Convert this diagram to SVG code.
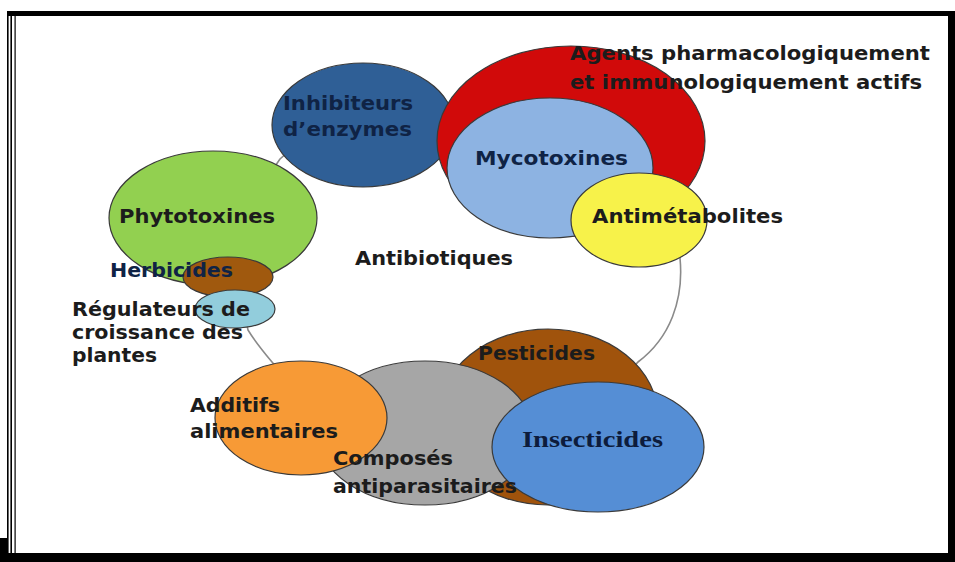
<svg xmlns="http://www.w3.org/2000/svg" width="955" height="562" viewBox="0 0 955 562">
<style>
  .n { stroke: #3a3a3a; stroke-width: 1.2; }
  .t { font-family: "DejaVu Sans", "Liberation Sans", sans-serif; font-weight: bold; font-size: 20px; fill: #1c1c1c; }
  .tb { fill: #0f2345; }
  .ts { font-family: "Liberation Serif", "DejaVu Serif", serif; font-weight: bold; font-size: 23px; fill: #0d1c3c; }
  .ring { fill: none; stroke: #8a8a8a; stroke-width: 1.6; }
</style>
<rect x="0" y="0" width="955" height="562" fill="#ffffff"/>
<!-- frame -->
<g id="frame" fill="#000">
  <rect x="7" y="11" width="942" height="5"/>
  <rect x="7" y="11" width="1.6" height="545"/>
  <rect x="10.4" y="11" width="1.6" height="545"/>
  <rect x="14.5" y="16" width="1.2" height="538"/>
  <rect x="948" y="11" width="7" height="551"/>
  <rect x="0" y="553" width="955" height="9"/>
  <rect x="0" y="538" width="7" height="24"/>
</g>
<g id="connectors">
  <path class="ring" d="M 680,258 C 684,300 670,338 638,362 C 590,420 330,440 272,362 C 262,350 254,340 248,330 C 238,290 250,200 280,159 C 320,120 400,130 446,130 C 520,130 690,150 680,258 Z"/>
</g>
<g id="inhibiteurs">
  <ellipse class="n" cx="363" cy="125" rx="91" ry="62" fill="#2f5f96"/>
  <text class="t tb" x="283" y="110" textLength="130" lengthAdjust="spacingAndGlyphs">Inhibiteurs</text>
  <text class="t tb" x="283" y="136" textLength="129" lengthAdjust="spacingAndGlyphs">d’enzymes</text>
</g>
<g id="agents">
  <ellipse class="n" cx="571" cy="141" rx="134" ry="95" fill="#d10a0a"/>
</g>
<g id="mycotoxines">
  <ellipse class="n" cx="550" cy="168" rx="103" ry="70" fill="#8db3e2"/>
  <text class="t tb" x="475" y="165" textLength="153" lengthAdjust="spacingAndGlyphs">Mycotoxines</text>
</g>
<g id="antimetabolites">
  <ellipse class="n" cx="639" cy="220" rx="68" ry="47" fill="#f7f24a"/>
  <text class="t" x="592" y="223" textLength="191" lengthAdjust="spacingAndGlyphs">Antimétabolites</text>
</g>
<g id="agents-label">
  <text class="t" x="570" y="60" textLength="360" lengthAdjust="spacingAndGlyphs">Agents pharmacologiquement</text>
  <text class="t" x="570" y="89" textLength="352" lengthAdjust="spacingAndGlyphs">et immunologiquement actifs</text>
</g>
<g id="phytotoxines">
  <ellipse class="n" cx="213" cy="218" rx="104" ry="67" fill="#92d050"/>
  <text class="t" x="119" y="223" textLength="156" lengthAdjust="spacingAndGlyphs">Phytotoxines</text>
</g>
<g id="herbicides">
  <ellipse class="n" cx="228" cy="277" rx="45" ry="20" fill="#a0590e"/>
  <text class="t tb" x="110" y="277" textLength="123" lengthAdjust="spacingAndGlyphs">Herbicides</text>
</g>
<g id="regulateurs">
  <ellipse class="n" cx="235" cy="309" rx="40" ry="19" fill="#92cddc"/>
  <text class="t" x="72" y="316" textLength="178" lengthAdjust="spacingAndGlyphs">Régulateurs de</text>
  <text class="t" x="72" y="339" textLength="171" lengthAdjust="spacingAndGlyphs">croissance des</text>
  <text class="t" x="72" y="362" textLength="85" lengthAdjust="spacingAndGlyphs">plantes</text>
</g>
<g id="antibiotiques">
  <text class="t" x="355" y="265" textLength="158" lengthAdjust="spacingAndGlyphs">Antibiotiques</text>
</g>
<g id="pesticides">
  <ellipse class="n" cx="548" cy="417" rx="110" ry="88" fill="#a0530c"/>
  <text class="t" x="478" y="360" textLength="117" lengthAdjust="spacingAndGlyphs">Pesticides</text>
</g>
<g id="composes">
  <ellipse class="n" cx="425" cy="433" rx="108" ry="72" fill="#a6a6a6"/>
</g>
<g id="additifs">
  <ellipse class="n" cx="301" cy="418" rx="86" ry="57" fill="#f79a36"/>
  <text class="t" x="190" y="412" textLength="90" lengthAdjust="spacingAndGlyphs">Additifs</text>
  <text class="t" x="190" y="438" textLength="148" lengthAdjust="spacingAndGlyphs">alimentaires</text>
</g>
<g id="insecticides">
  <ellipse class="n" cx="598" cy="447" rx="106" ry="65" fill="#558ed5"/>
  <text class="ts" x="522" y="447" textLength="141" lengthAdjust="spacingAndGlyphs">Insecticides</text>
</g>
<g id="composes-label">
  <text class="t" x="333" y="465" textLength="120" lengthAdjust="spacingAndGlyphs">Composés</text>
  <text class="t" x="333" y="493" textLength="184" lengthAdjust="spacingAndGlyphs">antiparasitaires</text>
</g>
</svg>
